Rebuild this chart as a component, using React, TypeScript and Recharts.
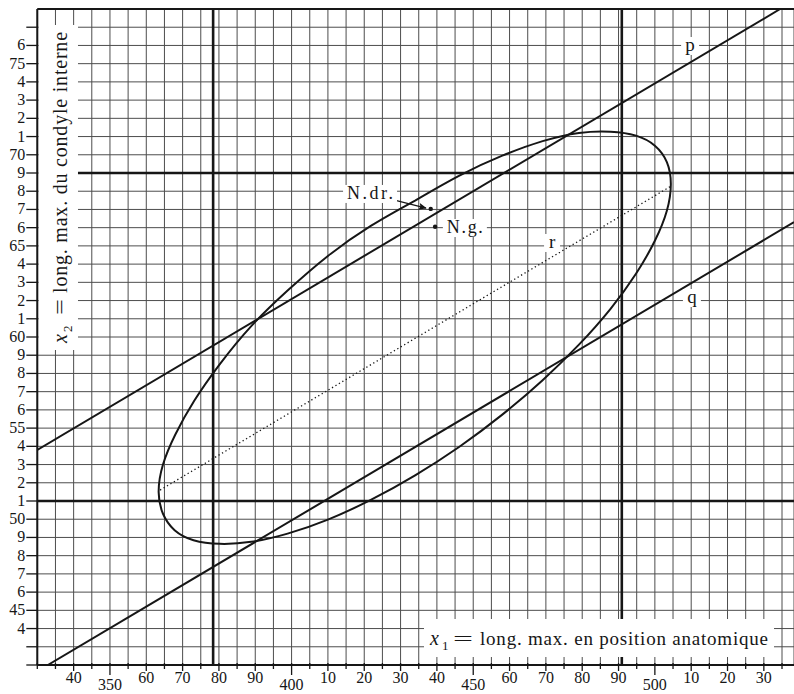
import React from 'react';
import {
  ComposedChart,
  Line,
  Scatter,
  XAxis,
  YAxis,
  CartesianGrid,
  ReferenceLine,
  ReferenceArea,
} from 'recharts';

// ---------- data ----------
const X_DOMAIN: [number, number] = [330, 538.3];
const Y_DOMAIN: [number, number] = [42, 78];

const xTicks = [
  330, 335, 340, 345, 350, 355, 360, 365, 370, 375, 380, 385, 390, 395, 400, 405, 410, 415, 420, 425,
  430, 435, 440, 445, 450, 455, 460, 465, 470, 475, 480, 485, 490, 495, 500, 505, 510, 515, 520, 525,
  530, 535,
];
const xTickLabels: Record<number, string> = {
  340: '40', 350: '350', 360: '60', 370: '70', 380: '80', 390: '90', 400: '400', 410: '10', 420: '20',
  430: '30', 440: '40', 450: '450', 460: '60', 470: '70', 480: '80', 490: '90', 500: '500', 510: '10',
  520: '20', 530: '30',
};
const xMajorTicks = [350, 400, 450, 500];

const yTicks = [
  42, 43, 44, 45, 46, 47, 48, 49, 50, 51, 52, 53, 54, 55, 56, 57, 58, 59, 60, 61, 62, 63, 64, 65, 66,
  67, 68, 69, 70, 71, 72, 73, 74, 75, 76, 77, 78,
];
const yTickLabels: Record<number, string> = {
  44: '4', 45: '45', 46: '6', 47: '7', 48: '8', 49: '9', 50: '50', 51: '1', 52: '2', 53: '3', 54: '4',
  55: '55', 56: '6', 57: '7', 58: '8', 59: '9', 60: '60', 61: '1', 62: '2', 63: '3', 64: '4', 65: '65',
  66: '6', 67: '7', 68: '8', 69: '9', 70: '70', 71: '1', 72: '2', 73: '3', 74: '4', 75: '75', 76: '6',
};

// closed curve (ellipse)
const ellipsePts = [
  { x: 434.0, y: 67.49 }, { x: 421.8, y: 66.1 }, { x: 410.0, y: 64.45 }, { x: 398.9, y: 62.55 },
  { x: 388.9, y: 60.6 }, { x: 380.2, y: 58.5 }, { x: 373.2, y: 56.5 }, { x: 368.0, y: 54.65 },
  { x: 364.6, y: 53.0 }, { x: 363.4, y: 51.5 }, { x: 364.6, y: 50.3 }, { x: 367.8, y: 49.4 },
  { x: 373.0, y: 48.85 }, { x: 380.2, y: 48.65 }, { x: 388.9, y: 48.76 }, { x: 398.9, y: 49.21 },
  { x: 410.0, y: 49.98 }, { x: 421.8, y: 51.06 }, { x: 434.0, y: 52.41 }, { x: 446.2, y: 53.98 },
  { x: 458.0, y: 55.74 }, { x: 469.1, y: 57.63 }, { x: 479.1, y: 59.58 }, { x: 487.8, y: 61.55 },
  { x: 494.8, y: 63.47 }, { x: 500.0, y: 65.28 }, { x: 503.3, y: 66.93 }, { x: 504.4, y: 68.4 },
  { x: 503.3, y: 69.6 }, { x: 500.0, y: 70.5 }, { x: 494.8, y: 71.05 }, { x: 487.8, y: 71.27 },
  { x: 479.1, y: 71.2 }, { x: 469.1, y: 70.75 }, { x: 458.0, y: 69.95 }, { x: 446.2, y: 68.86 },
  { x: 434.0, y: 67.49 },
];

const pLine = [{ x: 330, y: 53.8 }, { x: 534.5, y: 78 }];
const qLine = [{ x: 332.9, y: 42 }, { x: 538.3, y: 66.3 }];
const rLine = [{ x: 363.8, y: 51.6 }, { x: 504.2, y: 68.25 }];

const thickX = [378.4, 490.9];
const thickY = [51, 69];

const individuals = [
  { x: 438.3, y: 67.03 }, // N.dr.
  { x: 439.5, y: 66.05 }, // N.g.
];
const arrowLine = [{ x: 428.9, y: 67.48 }, { x: 437.0, y: 67.07 }];
const arrowTip = [{ x: 437.2, y: 67.06 }];

const labels = [
  { x: 421.6, y: 67.85, text: 'N.dr.' },
  { x: 447.7, y: 65.98, text: 'N.g.' },
  { x: 509.7, y: 75.97, text: 'p' },
  { x: 510.2, y: 62.14, text: 'q' },
  { x: 471.7, y: 65.16, text: 'r' },
];

// ---------- styles ----------
const FONT = "'Liberation Serif', 'DejaVu Serif', serif";
const INK = '#161616';
const labelStyle: Record<string, { w: number; size: number }> = {
  'N.dr.': { w: 46, size: 18 },
  'N.g.': { w: 36, size: 18 },
  p: { w: 10, size: 19 },
  q: { w: 10, size: 19 },
  r: { w: 8, size: 19 },
};

const XTick = (props: any) => {
  const { x, y, payload } = props;
  const v = payload.value;
  const label = xTickLabels[v];
  const major = xMajorTicks.includes(v);
  const len = major ? 10 : label ? 6 : 4;
  return (
    <g>
      <line x1={x} x2={x} y1={y - 2} y2={y + len} stroke={INK} strokeWidth={1.3} />
      {label ? (
        <text x={x} y={y + (major ? 25 : 18)} textAnchor="middle" fontFamily={FONT} fontSize={16} fill={INK}>
          {label}
        </text>
      ) : null}
    </g>
  );
};

const YTick = (props: any) => {
  const { x, y, payload } = props;
  const v = payload.value;
  const label = yTickLabels[v];
  if (v === 78) return <g />;
  return (
    <g>
      <line x1={x - 11} x2={x} y1={y} y2={y} stroke={INK} strokeWidth={1.3} />
      {label ? (
        <text x={x - 12} y={y + 5} textAnchor="end" fontFamily={FONT} fontSize={16} fill={INK}>
          {label}
        </text>
      ) : null}
    </g>
  );
};

const LabelShape = (props: any) => {
  const { cx, cy, payload } = props;
  const st = labelStyle[payload.text];
  const single = payload.text.length === 1;
  return (
    <g>
      <rect x={cx - st.w / 2 - 4} y={cy - 9} width={st.w + 8} height={18} fill="#fff" />
      <text
        x={cx}
        y={cy + 5}
        textAnchor="middle"
        fontFamily={FONT}
        fontSize={st.size}
        fill={INK}
        {...(single ? {} : { textLength: st.w, lengthAdjust: 'spacing' })}
      >
        {payload.text}
      </text>
    </g>
  );
};

const DotShape = (props: any) => {
  const { cx, cy } = props;
  return <circle cx={cx} cy={cy} r={2.2} fill={INK} />;
};

const ArrowHead = (props: any) => {
  const { cx, cy } = props;
  return (
    <path
      d="M0,0 L-8,-3.5 L-6.5,0 L-8,3.5 Z"
      transform={`translate(${cx},${cy}) rotate(14)`}
      fill={INK}
    />
  );
};

const XTitle = (props: any) => {
  const vb = props.viewBox || { x: 0, y: 0 };
  const bx = vb.x + 6;
  const by = vb.y + 26;
  return (
    <g fontFamily={FONT} fill={INK}>
      <text x={bx} y={by} fontSize={20} fontStyle="italic">x</text>
      <text x={bx + 12} y={by + 5} fontSize={13}>1</text>
      <text x={bx + 23} y={by} fontSize={19} textLength={20} lengthAdjust="spacingAndGlyphs">=</text>
      <text x={bx + 50} y={by} fontSize={19} textLength={288} lengthAdjust="spacing">
        long. max. en position anatomique
      </text>
    </g>
  );
};

const YTitle = (props: any) => {
  const vb = props.viewBox || { x: 0, y: 0, height: 0 };
  const px = vb.x + 28;
  const py = vb.y + vb.height - 7;
  return (
    <g fontFamily={FONT} fill={INK} transform={`translate(${px},${py}) rotate(-90)`}>
      <text x={0} y={0} fontSize={20} fontStyle="italic">x</text>
      <text x={11} y={5} fontSize={13}>2</text>
      <text x={28} y={0} fontSize={20} textLength={16} lengthAdjust="spacingAndGlyphs">=</text>
      <text x={50} y={0} fontSize={20} textLength={261} lengthAdjust="spacing">
        long. max. du condyle interne
      </text>
    </g>
  );
};

export default function App() {
  return (
    <div
      style={{
        position: 'absolute',
        left: 0,
        top: 0,
        width: 794,
        height: 694,
        background: '#fff',
        overflow: 'hidden',
      }}
    >
      <ComposedChart width={794} height={694} margin={{ top: 9, right: 0, bottom: 0, left: 0 }}>
        <CartesianGrid stroke="#4d4d4d" strokeWidth={1} />
        <XAxis
          type="number"
          dataKey="x"
          domain={X_DOMAIN}
          ticks={xTicks}
          interval={0}
          allowDataOverflow
          height={29}
          tickSize={0}
          tickMargin={0}
          tickLine={false}
          tick={<XTick />}
          axisLine={{ stroke: INK, strokeWidth: 2 }}
        />
        <YAxis
          type="number"
          dataKey="y"
          domain={Y_DOMAIN}
          ticks={yTicks}
          interval={0}
          allowDataOverflow
          width={37.3}
          tickSize={0}
          tickMargin={0}
          tickLine={false}
          tick={<YTick />}
          axisLine={{ stroke: INK, strokeWidth: 2 }}
        />

        {/* white label boxes for the axis titles */}
        <ReferenceArea
          x1={436.45}
          x2={532.8}
          y1={42.44}
          y2={44.52}
          fill="#fff"
          fillOpacity={1}
          stroke="none"
          label={<XTitle />}
        />
        <ReferenceArea
          x1={330.35}
          x2={341.2}
          y1={59.29}
          y2={77.12}
          fill="#fff"
          fillOpacity={1}
          stroke="none"
          label={<YTitle />}
        />

        {/* heavy reference lines */}
        <ReferenceLine x={thickX[0]} stroke={INK} strokeWidth={2.6} />
        <ReferenceLine
          segment={[{ x: thickX[1], y: 44.52 }, { x: thickX[1], y: 78 }]}
          stroke={INK}
          strokeWidth={2.6}
        />
        <ReferenceLine
          segment={[{ x: thickX[1], y: 42 }, { x: thickX[1], y: 42.44 }]}
          stroke={INK}
          strokeWidth={2.6}
        />
        <ReferenceLine y={thickY[0]} stroke={INK} strokeWidth={2.6} />
        <ReferenceLine
          segment={[{ x: 341.2, y: thickY[1] }, { x: 538.3, y: thickY[1] }]}
          stroke={INK}
          strokeWidth={2.6}
        />
        <ReferenceLine y={78} stroke={INK} strokeWidth={2.2} />

        <Line data={pLine} dataKey="y" type="linear" stroke={INK} strokeWidth={2} dot={false} isAnimationActive={false} />
        <Line data={qLine} dataKey="y" type="linear" stroke={INK} strokeWidth={2} dot={false} isAnimationActive={false} />
        <Line
          data={rLine}
          dataKey="y"
          type="linear"
          stroke={INK}
          strokeWidth={1.3}
          strokeDasharray="1.3 2.7"
          dot={false}
          isAnimationActive={false}
        />
        <Line
          data={ellipsePts}
          dataKey="y"
          type="natural"
          stroke={INK}
          strokeWidth={2}
          dot={false}
          isAnimationActive={false}
        />
        <Line data={arrowLine} dataKey="y" type="linear" stroke={INK} strokeWidth={1.3} dot={false} isAnimationActive={false} />

        <Scatter data={labels} dataKey="y" shape={<LabelShape />} isAnimationActive={false} />
        <Scatter data={individuals} dataKey="y" shape={<DotShape />} isAnimationActive={false} />
        <Scatter data={arrowTip} dataKey="y" shape={<ArrowHead />} isAnimationActive={false} />
      </ComposedChart>
    </div>
  );
}
